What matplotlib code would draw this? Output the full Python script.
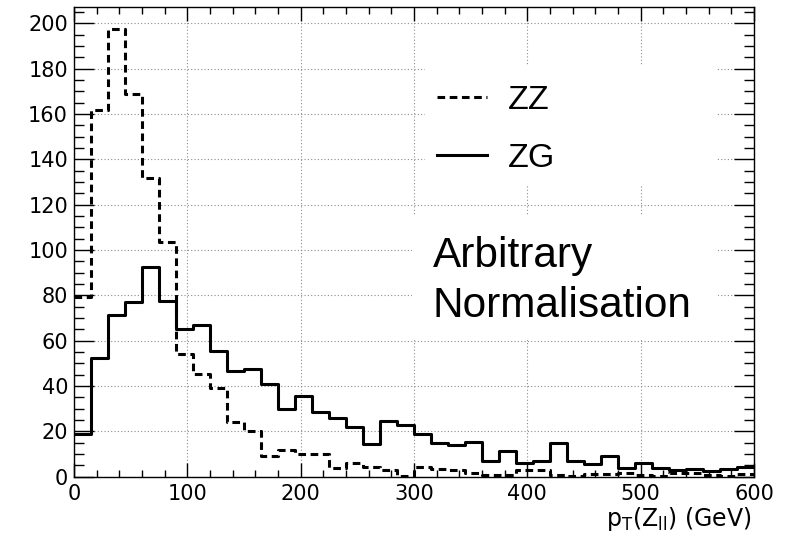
"""
pT(Z_ll) shape comparison, ZZ vs ZG (ROOT-style histogram look)
"""

import numpy as np
import matplotlib
matplotlib.use("Agg")
import matplotlib.pyplot as plt
from matplotlib.lines import Line2D
from matplotlib.patches import Rectangle
from matplotlib.ticker import MultipleLocator

# --- data: 40 bins of 15 GeV from 0 to 600 ---
bin_edges = np.linspace(0, 600, 41)

zz_counts = [79.5, 162, 197.4, 169, 132, 103.5, 54, 45.5, 39, 24.3,
             20, 9, 12, 10, 10, 3.8, 6, 4.2, 3, 0.5,
             4.1, 3.2, 2.8, 1.6, 0.6, 0.6, 3.1, 3, 0.6, 0.5,
             1, 1, 1.8, 0.8, 0.5, 1.5, 1.8, 0.8, 0.5, 1]

zg_counts = [19, 52.5, 71.5, 77, 92.5, 77.5, 65, 67, 55.5, 46.5,
             47.5, 41, 30, 35.5, 28.5, 26, 22, 14.5, 24.5, 23,
             19, 15, 14, 15.5, 7, 11.5, 6, 7, 15, 7,
             5.5, 9, 4, 6, 4, 3, 3.2, 2.6, 3.4, 4.4]

labels = ["ZZ", "ZG"]
x_label = r"p$_{\mathrm{T}}$(Z$_{\mathrm{ll}}$) (GeV)"
note = ["Arbitrary", "Normalisation"]

# --- figure ---
plt.rcParams["font.family"] = ["DejaVu Sans"]
plt.rcParams["mathtext.default"] = "regular"

fig = plt.figure(figsize=(7.87, 5.40), dpi=100)
ax = fig.add_axes([0.0940, 0.1172, 0.8640, 0.8698])

dash = (0, (2.5, 1.5))
LW = 2.2
ax.step(bin_edges, np.append(zz_counts, zz_counts[-1]), where="post",
        color="black", lw=LW, linestyle=dash, zorder=3)
ax.step(bin_edges, np.append(zg_counts, zg_counts[-1]), where="post",
        color="black", lw=LW, zorder=3)

ax.set_xlim(0, 600)
ax.set_ylim(0, 1.05 * max(zz_counts))

ax.xaxis.set_major_locator(MultipleLocator(100))
ax.xaxis.set_minor_locator(MultipleLocator(20))
ax.yaxis.set_major_locator(MultipleLocator(20))
ax.yaxis.set_minor_locator(MultipleLocator(5))

ax.tick_params(which="both", direction="in", top=True, right=True,
               width=1.0, colors="black", labelsize=15)
ax.xaxis.set_tick_params(which="major", length=10, pad=5.5)
ax.xaxis.set_tick_params(which="minor", length=5)
ax.yaxis.set_tick_params(which="major", length=14.7, pad=4.3)
ax.yaxis.set_tick_params(which="minor", length=7.3)
for sp in ax.spines.values():
    sp.set_linewidth(1.0)

ax.set_axisbelow(True)
ax.grid(True, which="major", color="0.55", lw=0.8, linestyle=(0, (1, 2)))

# white boxes behind legend / note (hide the grid like the ROOT panes)
ax.add_patch(Rectangle((0.516, 0.621), 0.43, 0.256, transform=ax.transAxes,
                       facecolor="white", edgecolor="none", zorder=1))
ax.add_patch(Rectangle((0.497, 0.291), 0.45, 0.266, transform=ax.transAxes,
                       facecolor="white", edgecolor="none", zorder=1))

handles = [Line2D([], [], color="black", lw=LW, linestyle=dash),
           Line2D([], [], color="black", lw=LW)]
ax.legend(handles, labels, loc="upper left", bbox_to_anchor=(0.534, 0.835),
          frameon=False, borderpad=0, borderaxespad=0,
          prop={"family": "Liberation Sans", "size": 24.5},
          handlelength=1.47, handletextpad=0.62, labelspacing=0.81)

ax.text(0.5275, 0.447, note[0], transform=ax.transAxes, family="Liberation Sans",
        fontsize=30.5, ha="left", va="baseline", zorder=4)
ax.text(0.5275, 0.3406, note[1], transform=ax.transAxes, family="Liberation Sans",
        fontsize=30.5, ha="left", va="baseline", zorder=4)

fig.text(0.9555, 0.026, x_label, ha="right", va="baseline", fontsize=17)

fig.savefig("out.png", dpi=100)
